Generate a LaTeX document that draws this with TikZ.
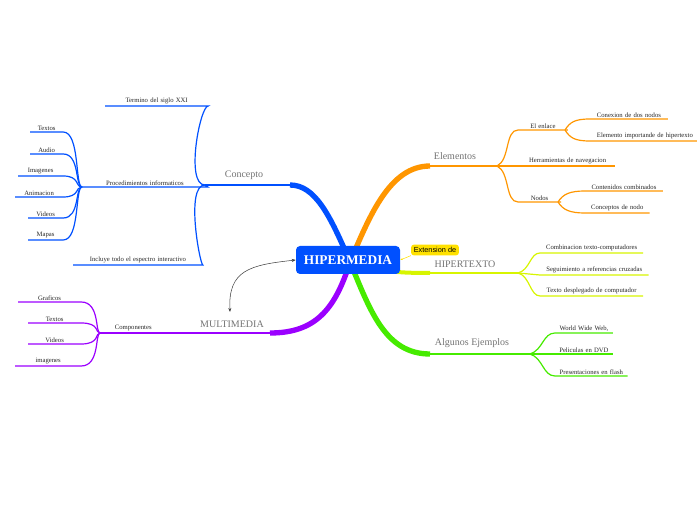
\documentclass[tikz,border=0pt]{standalone}
\usepackage{fontspec}
\setmainfont{Liberation Serif}
\newfontfamily\sansf{Liberation Sans}
\usetikzlibrary{arrows.meta}
\begin{document}
\begin{tikzpicture}[x=0.75pt,y=-0.75pt,
 leaf/.style={font=\fontsize{5}{6}\selectfont,inner sep=1pt,text=black!85,align=center},
 main/.style={font=\fontsize{7.5}{9}\selectfont,text=black!55,inner sep=1pt},
 ln/.style={line width=0.9pt},
]
\definecolor{cb}{RGB}{0,80,255}
\definecolor{co}{RGB}{255,150,0}
\definecolor{cy}{RGB}{215,245,0}
\definecolor{cg}{RGB}{70,235,0}
\definecolor{cp}{RGB}{155,0,255}
\definecolor{cyel}{RGB}{255,225,0}
\useasboundingbox (0,0) rectangle (697,520);
% ---------- main branches
\coordinate (C) at (350,262);
\coordinate (kc) at (205,185);
\draw[cb,line width=4pt] (C) .. controls (330,215) and (315,185) .. (290,185);
\draw[cb,ln] (290,185) -- (kc);
\node[main,anchor=south] (concepto) at (244,181) {Concepto};
\coordinate (ke) at (497,166);
\draw[co,line width=4pt] (C) .. controls (370,215) and (390,166) .. (430,166);
\draw[co,ln] (430,166) -- (ke);
\node[main,anchor=south] (elem) at (455,161) {Elementos};
\coordinate (kh) at (518,273);
\draw[cy,line width=3pt] (C) .. controls (380,272) and (400,273) .. (430,273);
\draw[cy,ln] (430,273) -- (kh);
\node[main,anchor=south] (hiper) at (465,269) {HIPERTEXTO};
\coordinate (ka) at (530,354);
\draw[cg,line width=4pt] (C) .. controls (370,310) and (385,354) .. (430,354);
\draw[cg,ln] (430,354) -- (ka);
\node[main,anchor=south] (alg) at (472,349) {Algunos Ejemplos};
\coordinate (km) at (100,333);
\draw[cp,line width=4pt] (C) .. controls (335,310) and (315,333) .. (270,333);
\draw[cp,ln] (270,333) -- (km);
\node[main,anchor=south] (multi) at (232,329) {MULTIMEDIA};
% ---------- central
\node[fill=cb,rounded corners=3pt,minimum width=78pt,minimum height=21pt,
 text=white,font=\bfseries\fontsize{10}{12}\selectfont] (hm) at (348,260) {HIPERMEDIA};
\node[fill=cyel,rounded corners=2pt,font=\sansf\fontsize{5.5}{6}\selectfont,inner sep=2pt] (ext) at (435,250) {Extension de};
\draw[cyel,-{Stealth[length=2pt]}] (ext.south west) -- (hm.east);
\draw[black!75,{Stealth[length=3pt]}-{Stealth[length=3pt]}] (hm.west) .. controls (250,265) and (228,270) .. (230,312);
% ---------- Concepto children
\node[leaf,anchor=south west,text width=75pt] (t1) at (105,106) {Termino del siglo XXI};
\draw[cb,ln] (kc) .. controls (185,185) and (200,106) .. (t1.south east) -- (t1.south west);
\coordinate (kp) at (82,187);
\node[leaf,anchor=south west,text width=92pt] (t2) at (82,187) {Procedimientos informaticos};
\draw[cb,ln] (kc) -- (t2.south east) -- (t2.south west);
\node[leaf,anchor=south west,text width=95pt] (t3) at (73,265) {Incluye todo el espectro interactivo};
\draw[cb,ln] (kc) .. controls (185,185) and (200,265) .. (t3.south east) -- (t3.south west);
\foreach \n/\t/\y/\l in {a/Textos/132/30,b/Audio/154/30,c/Imagenes/176/18,d/Animacion/197/15,e/Videos/218/28,f/Mapas/240/28}{
 \pgfmathsetmacro\w{(60-\l)*0.75}
 \node[leaf,anchor=south west,text width=\w pt] (p\n) at (\l,\y) {\t};
 \draw[cb,ln] (kp) .. controls (75,187) and (80,\y) .. (p\n.south east) -- (p\n.south west);
}
% ---------- Elementos children
\coordinate (kl) at (565,130);
\coordinate (kn) at (558,202);
\node[leaf,anchor=south west,text width=35pt] (e1) at (518,130) {El enlace};
\draw[co,ln] (ke) .. controls (510,160) and (505,130) .. (e1.south west) -- (e1.south east);
\node[leaf,anchor=south west,text width=69pt] (e2) at (520,166) {Herramientas de navegacion};
\draw[co,ln] (ke) -- (e2.south west) -- (e2.south east);
\node[leaf,anchor=south west,text width=30pt] (e3) at (518,202) {Nodos};
\draw[co,ln] (ke) .. controls (510,172) and (505,202) .. (e3.south west) -- (e3.south east);
\node[leaf,anchor=south west,text width=56pt] (e4) at (590,119) {Conexion de dos nodos};
\draw[co,ln] (kl) .. controls (570,122) and (575,119) .. (e4.south west) -- (e4.south east);
\node[leaf,anchor=south west,text width=80pt] (e5) at (590,141) {Elemento importande de hipertexto};
\draw[co,ln] (kl) .. controls (570,138) and (575,141) .. (e5.south west) -- (e5.south east);
\node[leaf,anchor=south west,text width=56pt] (e6) at (585,191) {Contenidos combinados};
\draw[co,ln] (kn) .. controls (563,194) and (570,191) .. (e6.south west) -- (e6.south east);
\node[leaf,anchor=south west,text width=46pt] (e7) at (585,213) {Conceptos de nodo};
\draw[co,ln] (kn) .. controls (563,210) and (570,213) .. (e7.south west) -- (e7.south east);
% ---------- HIPERTEXTO children
\node[leaf,anchor=south west,text width=75pt] (h1) at (540,253) {Combinacion texto-computadores};
\draw[cy,ln] (kh) .. controls (530,270) and (530,253) .. (h1.south west) -- (h1.south east);
\node[leaf,anchor=south west,text width=79pt] (h2) at (540,275) {Seguimiento a referencias cruzadas};
\draw[cy,ln] (kh) -- (h2.south west) -- (h2.south east);
\node[leaf,anchor=south west,text width=75pt] (h3) at (540,296) {Texto desplegado de computador};
\draw[cy,ln] (kh) .. controls (530,276) and (530,296) .. (h3.south west) -- (h3.south east);
% ---------- Ejemplos children
\node[leaf,anchor=south west,text width=41pt] (g1) at (555,333) {World Wide Web,};
\draw[cg,ln] (ka) .. controls (543,350) and (543,333) .. (g1.south west) -- (g1.south east);
\node[leaf,anchor=south west,text width=41pt] (g2) at (555,354) {Peliculas en DVD};
\draw[cg,ln] (ka) -- (g2.south west) -- (g2.south east);
\node[leaf,anchor=south west,text width=52pt] (g3) at (555,376) {Presentaciones en flash};
\draw[cg,ln] (ka) .. controls (543,358) and (543,376) .. (g3.south west) -- (g3.south east);
% ---------- Multimedia children
\node[leaf,anchor=south west,text width=120pt,align=left] (m0) at (100,333) {\hspace{10pt}Componentes};
\foreach \n/\t/\y/\l in {a/Graficos/302/18,b/Textos/323/28,c/Videos/344/28,d/imagenes/366/15}{
 \pgfmathsetmacro\w{(78-\l)*0.75}
 \node[leaf,anchor=south west,text width=\w pt] (m\n) at (\l,\y) {\t};
 \draw[cp,ln] (km) .. controls (95,333) and (100,\y) .. (m\n.south east) -- (m\n.south west);
}
\end{tikzpicture}
\end{document}
